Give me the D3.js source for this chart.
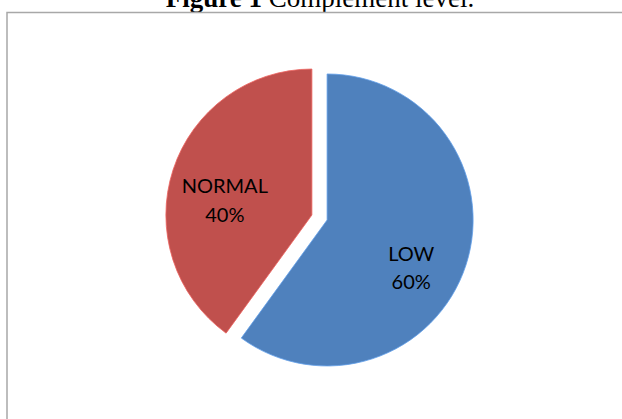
<!DOCTYPE html>
<html lang="en">
<head>
    <meta charset="utf-8">
    <title>Complement level</title>
    <script type="text/javascript" src="https://cdn.jsdelivr.net/npm/d3@7"></script>
    <style>
        body { margin: 0; background: #fff; }
        text.slice-label { font-family: Lato, "Open Sans", sans-serif; font-size: 20px; fill: #000; }
        text.title { font-family: "Liberation Serif", "Times New Roman", serif; font-size: 27px; fill: #000; }
    </style>
</head>
<body>
    <script type="text/javascript">
        // chart data
        var categories = ["LOW", "NORMAL"];
        var values = [60, 40];
        var percentLabels = ["60%", "40%"];
        var colors = ["#4F81BD", "#C0504D"];

        //Width and height
        var w = 622;
        var h = 419;
        var cx = 319.5, cy = 217.5;
        var r = 146;
        var explode = 8;
        // label nudges relative to slice centroid (layout only)
        var labelRadius = 0.62 * r;
        var labelNudge = [[-2, 20], [-1, 13]];

        var svg = d3.select("body")
            .append("svg")
            .attr("width", w).attr("height", h);

        // title, cut off at top as in the picture
        var title = svg.append("text")
            .attr("class", "title")
            .attr("x", 320)
            .attr("y", 7)
            .attr("text-anchor", "middle");
        title.append("tspan").style("font-weight", "bold").text("Figure 1");
        title.append("tspan").text(" Complement level.");

        // chart frame
        svg.append("rect")
            .attr("x", 7).attr("y", 12.5)
            .attr("width", w).attr("height", h)
            .style("fill", "none")
            .style("stroke", "#a8a8a8")
            .style("stroke-width", 1.5);

        var pie = d3.pie().sort(null).value(function (d) { return d; });
        var arcs = pie(values);

        var arc = d3.arc().innerRadius(0).outerRadius(r);
        var labelArc = d3.arc().innerRadius(labelRadius).outerRadius(labelRadius);

        var g = svg.append("g").attr("transform", "translate(" + cx + "," + cy + ")");

        var slices = g.selectAll("g.slice")
            .data(arcs)
            .enter()
            .append("g")
            .attr("class", "slice")
            .attr("transform", function (d) {
                var a = (d.startAngle + d.endAngle) / 2;
                return "translate(" + (Math.sin(a) * explode) + "," + (-Math.cos(a) * explode) + ")";
            });

        slices.append("path")
            .attr("d", arc)
            .style("fill", function (d, i) { return colors[i]; })
            .style("stroke", function (d, i) { return d3.color(colors[i]).brighter(0.6); })
            .style("stroke-width", 0.8);

        var labels = slices.append("text")
            .attr("class", "slice-label")
            .attr("text-anchor", "middle")
            .attr("transform", function (d, i) {
                var c = labelArc.centroid(d);
                return "translate(" + (c[0] + labelNudge[i][0]) + "," + (c[1] + labelNudge[i][1]) + ")";
            });

        labels.append("tspan")
            .attr("x", 0).attr("y", -7)
            .text(function (d, i) { return categories[i]; });
        labels.append("tspan")
            .attr("x", 0).attr("y", 21.5)
            .text(function (d, i) { return percentLabels[i]; });
    </script>
</body>
</html>
